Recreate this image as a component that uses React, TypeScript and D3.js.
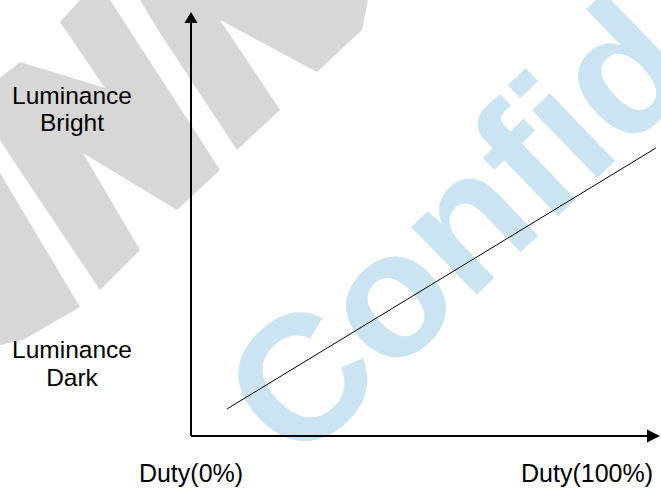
import * as d3 from "d3"

// trend line: duty (%) vs relative luminance
const dutyPercent = [7.7, 99.1]
const luminanceLevel = [6.4, 67.9]

// axis captions
const brightLabel = ["Luminance", "Bright"]
const darkLabel = ["Luminance", "Dark"]
const dutyLabels = ["Duty(0%)", "Duty(100%)"]

// background watermark (grey logo strokes)
const logoShapes: [number, number][][] = [
  [
    [0, 78], [20, 62], [105, 88], [60, 22], [80, 0], [110, 0], [160, 77],
    [220, 170], [177, 210], [83, 153], [140, 250], [100, 290], [13, 160], [0, 140],
  ],
  [[0, 173], [80, 307], [23, 340], [0, 345]],
  [
    [140, 0], [160, 33], [237, 150], [280, 110], [220, 20], [317, 72],
    [362, 30], [368, 0],
  ],
]

const W = 661
const H = 490
const font = "'Liberation Sans', Arial, sans-serif"

export default function App() {
  const x = d3.scaleLinear([0, 100], [191, 660])
  const y = d3.scaleLinear([0, 100], [436, 12])

  const points = dutyPercent.map((d, i) => ({ x: d, y: luminanceLevel[i] }))
  const line = d3
    .line<{ x: number; y: number }>()
    .x((d) => x(d.x))
    .y((d) => y(d.y))

  const poly = d3.line()
  const x0 = x(0)
  const y0 = y(0)
  const xEnd = x(100)
  const yEnd = y(100)

  return (
    <svg
      width={W}
      height={H}
      style={{ position: "absolute", left: 0, top: 0, background: "#fff" }}
    >
      <g fill="#d7d7d7">
        {logoShapes.map((s, i) => (
          <path key={i} d={poly(s) + "Z"} />
        ))}
      </g>
      <text
        transform="translate(297,468) rotate(-44)"
        fontFamily={font}
        fontWeight="bold"
        fontSize={178}
        fill="#cae5f1"
      >
        Confid
      </text>

      {/* axes */}
      <g stroke="#000" strokeWidth={2}>
        <line x1={x0} y1={y0} x2={x0} y2={yEnd + 10} />
        <line x1={x0} y1={y0} x2={xEnd - 12} y2={y0} />
      </g>
      <path
        d={`M${x0},${yEnd} L${x0 - 6.5},${yEnd + 11} L${x0 + 6.5},${yEnd + 11}Z`}
        fill="#000"
      />
      <path
        d={`M${xEnd},${y0} L${xEnd - 13},${y0 - 6.5} L${xEnd - 13},${y0 + 6.5}Z`}
        fill="#000"
      />

      <path d={line(points) ?? undefined} fill="none" stroke="#000" strokeWidth={1} />

      <g fontFamily={font} fontSize={24.5} fill="#000" textAnchor="middle">
        <text x={72} y={y(78.3)}>{brightLabel[0]}</text>
        <text x={72} y={y(71.9)}>{brightLabel[1]}</text>
        <text x={72} y={y(18.4)}>{darkLabel[0]}</text>
        <text x={72} y={y(11.8)}>{darkLabel[1]}</text>
      </g>
      <g fontFamily={font} fontSize={25} fill="#000">
        <text x={x0} y={482} textAnchor="middle">{dutyLabels[0]}</text>
        <text x={xEnd - 7} y={482} textAnchor="end">{dutyLabels[1]}</text>
      </g>
    </svg>
  )
}
